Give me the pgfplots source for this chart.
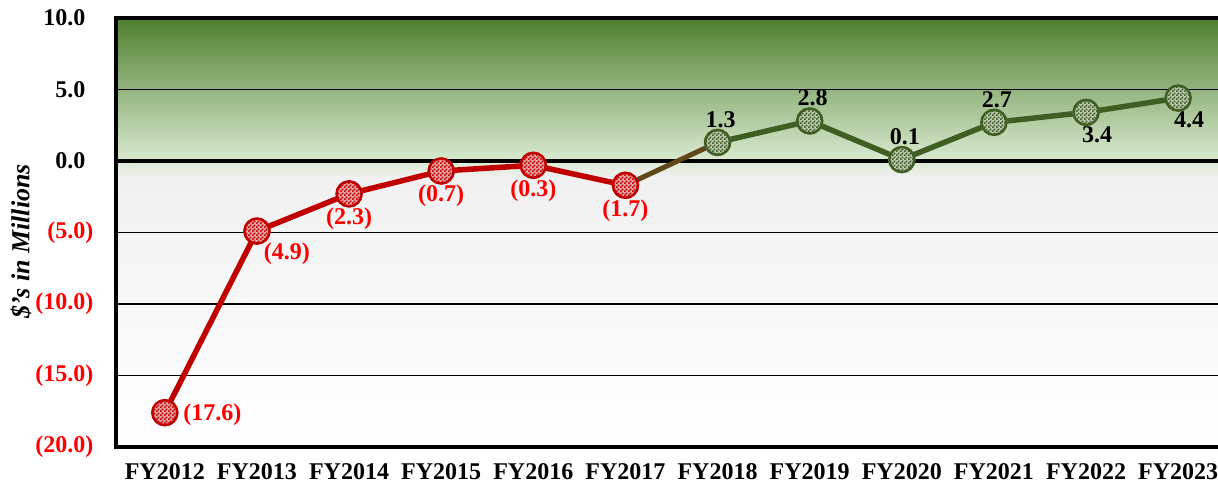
\documentclass[border=0pt]{standalone}
\usepackage{pgfplots}
\pgfplotsset{compat=1.18}
\usepackage{fontspec}
\setmainfont{Liberation Serif}
\usetikzlibrary{patterns}
\definecolor{myred}{HTML}{C00000}
\definecolor{lblred}{HTML}{FF0000}
\definecolor{mygreen}{HTML}{3F5F22}
\definecolor{bgtop}{HTML}{4E7F2E}
\definecolor{bgbot}{HTML}{DAEBD1}
\definecolor{graytop}{HTML}{F0F0F0}

\pgfdeclarepatternformonly{finecheck}{\pgfpointorigin}{\pgfqpoint{4pt}{4pt}}{\pgfqpoint{4pt}{4pt}}{%
  \pgfpathrectangle{\pgfpointorigin}{\pgfqpoint{2pt}{2pt}}%
  \pgfpathrectangle{\pgfqpoint{2pt}{2pt}}{\pgfqpoint{2pt}{2pt}}%
  \pgfusepath{fill}}

\pgfdeclareplotmark{redcheck}{%
  \pgfpathcircle{\pgfpointorigin}{13.5pt}%
  \pgfsetfillcolor{myred!35!white}\pgfusepath{fill}%
  \pgfpathcircle{\pgfpointorigin}{13.5pt}%
  \pgfsetfillpattern{finecheck}{myred}\pgfusepath{fill}%
  \pgfpathcircle{\pgfpointorigin}{12.5pt}%
  \pgfsetlinewidth{2.5pt}\pgfsetstrokecolor{myred}\pgfusepath{stroke}}
\pgfdeclareplotmark{greencheck}{%
  \pgfpathcircle{\pgfpointorigin}{13.5pt}%
  \pgfsetfillcolor{mygreen!35!white}\pgfusepath{fill}%
  \pgfpathcircle{\pgfpointorigin}{13.5pt}%
  \pgfsetfillpattern{finecheck}{mygreen}\pgfusepath{fill}%
  \pgfpathcircle{\pgfpointorigin}{12.5pt}%
  \pgfsetlinewidth{2.5pt}\pgfsetstrokecolor{mygreen}\pgfusepath{stroke}}

\begin{document}
\begin{tikzpicture}
\begin{axis}[
  set layers,
  at={(0,0)}, anchor=south west,
  scale only axis, width=1111pt, height=429pt,
  xmin=-0.53, xmax=11.53, ymin=-20, ymax=10,
  xtick={0,...,11},
  xticklabels={FY2012,FY2013,FY2014,FY2015,FY2016,FY2017,FY2018,FY2019,FY2020,FY2021,FY2022,FY2023},
  ytick={-20,-15,-10,-5,0,5,10},
  yticklabels={\textcolor{lblred}{(20.0)},\textcolor{lblred}{(15.0)},\textcolor{lblred}{(10.0)},\textcolor{lblred}{(5.0)},0.0\hphantom{)},5.0\hphantom{)},10.0\hphantom{)}},
  tick style={draw=none},
  ymajorgrids, grid style={black, line width=1.3pt},
  axis line style={line width=4pt},
  tick label style={font=\fontsize{24}{28}\selectfont\bfseries},
  xticklabel style={yshift=-13pt},
  yticklabel style={xshift=-19pt},
  ylabel={\textbf{\textit{\$’s in Millions}}},
  every axis y label/.style={at={(axis description cs:0,0.48)}, xshift=-95pt, rotate=90, anchor=center, font=\fontsize{26}{30}\selectfont},
  clip=false,
]
\begin{pgfonlayer}{axis background}
\fill[top color=bgtop, bottom color=bgbot] (axis cs:-0.53,0) rectangle (axis cs:11.53,10);
\fill[top color=graytop, bottom color=white] (axis cs:-0.53,-20) rectangle (axis cs:11.53,0);
\fill[top color=bgbot, bottom color=graytop] (axis cs:-0.53,-1.1) rectangle (axis cs:11.53,0);
\end{pgfonlayer}
\addplot[black, line width=4pt, forget plot] coordinates {(-0.53,0) (11.53,0)};
\addplot[mygreen!75!myred, line width=5pt, forget plot] coordinates {(5,-1.7) (6,1.3)};
\addplot[myred, line width=5.5pt, mark=redcheck] coordinates {(0,-17.6) (1,-4.9) (2,-2.3) (3,-0.7) (4,-0.3) (5,-1.7)};
\addplot[mygreen, line width=5.5pt, mark=greencheck] coordinates {(6,1.3) (7,2.8) (8,0.1) (9,2.7) (10,3.4) (11,4.4)};
% labels
\addplot[draw=none, mark=none, forget plot, point meta=explicit symbolic, nodes near coords,
  nodes near coords style={font=\fontsize{24}{28}\selectfont\bfseries, text=lblred, anchor=west, xshift=15pt, yshift=-2pt}]
  coordinates {(0,-17.6) [(17.6)]};
\addplot[draw=none, mark=none, forget plot, point meta=explicit symbolic, nodes near coords,
  nodes near coords style={font=\fontsize{24}{28}\selectfont\bfseries, text=lblred, anchor=center, xshift=30pt, yshift=-23pt}]
  coordinates {(1,-4.9) [(4.9)]};
\addplot[draw=none, mark=none, forget plot, point meta=explicit symbolic, nodes near coords,
  nodes near coords style={font=\fontsize{24}{28}\selectfont\bfseries, text=lblred, anchor=center, yshift=-25pt}]
  coordinates {(2,-2.3) [(2.3)] (3,-0.7) [(0.7)] (4,-0.3) [(0.3)] (5,-1.7) [(1.7)]};
\addplot[draw=none, mark=none, forget plot, point meta=explicit symbolic, nodes near coords,
  nodes near coords style={font=\fontsize{24}{28}\selectfont\bfseries, text=black, anchor=center, xshift=3pt, yshift=23pt}]
  coordinates {(6,1.3) [1.3] (7,2.8) [2.8] (8,0.1) [0.1] (9,2.7) [2.7]};
\addplot[draw=none, mark=none, forget plot, point meta=explicit symbolic, nodes near coords,
  nodes near coords style={font=\fontsize{24}{28}\selectfont\bfseries, text=black, anchor=center, xshift=11pt, yshift=-22pt}]
  coordinates {(10,3.4) [3.4] (11,4.4) [4.4]};
\end{axis}
\pgfresetboundingbox
\path[use as bounding box] (-116pt,-37pt) rectangle (1102pt,447pt);
\end{tikzpicture}
\end{document}
